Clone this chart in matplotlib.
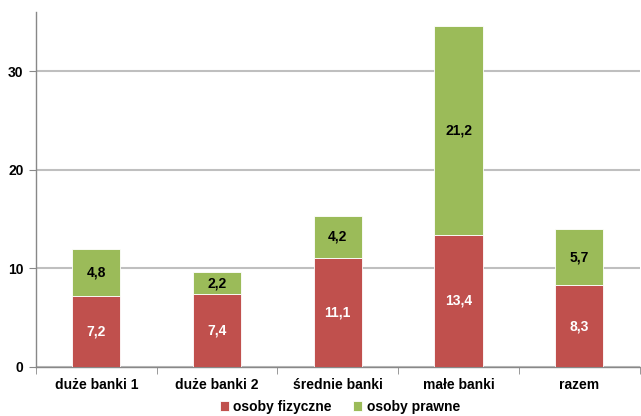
import matplotlib
matplotlib.use("Agg")
import matplotlib.pyplot as plt
import numpy as np

categories = ["duże banki 1", "duże banki 2", "średnie banki", "małe banki", "razem"]
fizyczne = [7.2, 7.4, 11.1, 13.4, 8.3]
prawne = [4.8, 2.2, 4.2, 21.2, 5.7]

RED = "#C0504D"
GREEN = "#9BBB59"

plt.rcParams["font.family"] = ["Liberation Sans", "DejaVu Sans"]
plt.rcParams["font.weight"] = "bold"

fig = plt.figure(figsize=(6.41, 4.16), dpi=100)
ax = fig.add_axes([0.056, 0.118, 0.942, 0.853])

x = np.arange(len(categories))
width = 0.4
ax.bar(x, fizyczne, width, color=RED, edgecolor="white", linewidth=0.6, label="osoby fizyczne", zorder=3)
ax.bar(x, prawne, width, bottom=fizyczne, color=GREEN, edgecolor="white", linewidth=0.6, label="osoby prawne", zorder=3)

def fmt(v):
    return f"{v:.1f}".replace(".", ",")

for i, (a, b) in enumerate(zip(fizyczne, prawne)):
    ax.text(i, a / 2, fmt(a), ha="center", va="center", color="white", fontsize=10, fontweight="bold", zorder=4)
    ax.text(i, a + b / 2, fmt(b), ha="center", va="center", color="black", fontsize=10, fontweight="bold", zorder=4)

ax.set_xlim(-0.5, len(categories) - 0.5)
ax.set_ylim(0, 36)
ax.set_yticks([0, 10, 20, 30])
ax.yaxis.grid(True, color="#BFBFBF", linewidth=1.5, zorder=0)
ax.set_axisbelow(True)

ax.set_xticks(x)
ax.set_xticklabels(categories, fontsize=10, fontweight="bold")
ax.tick_params(axis="x", length=0, pad=8)
ax.set_xticks(np.arange(len(categories) + 1) - 0.5, minor=True)
ax.tick_params(axis="x", which="minor", length=5, color="#888888", direction="out")
ax.tick_params(axis="y", length=5, color="#888888", labelsize=10, pad=4)

for s in ["top", "right"]:
    ax.spines[s].set_visible(False)
for s in ["left", "bottom"]:
    ax.spines[s].set_color("#888888")
    ax.spines[s].set_linewidth(1.0)

fig.legend(*ax.get_legend_handles_labels(), loc="center", bbox_to_anchor=(0.53, 0.022), ncol=2, frameon=False,
           fontsize=10, handlelength=0.7, handleheight=0.7, handletextpad=0.3, columnspacing=1.5,
           borderpad=0, borderaxespad=0)

fig.savefig("out.png", dpi=100)
